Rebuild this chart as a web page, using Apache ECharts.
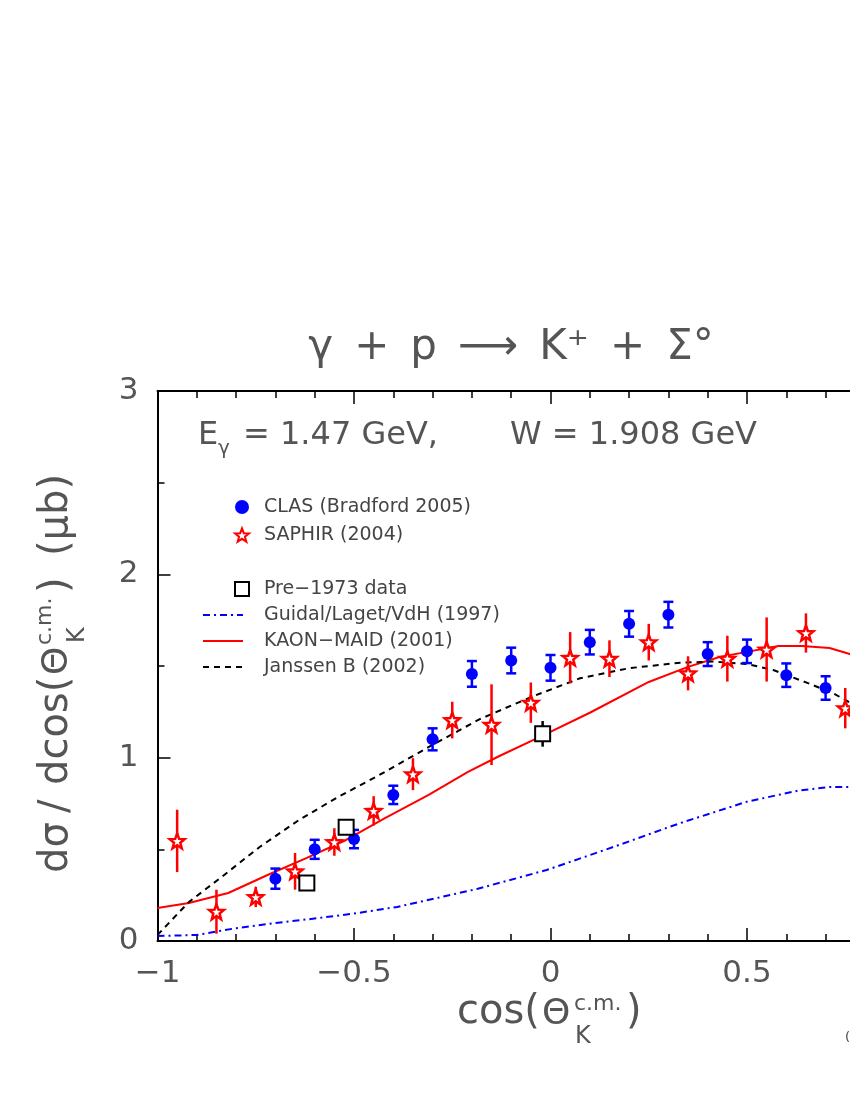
<!DOCTYPE html>
<html>
<head>
<meta charset="utf-8">
<script src="https://cdn.jsdelivr.net/npm/echarts@6/dist/echarts.min.js"></script>
<style>
html,body{margin:0;padding:0;background:#fff;overflow:hidden;}
#chart{width:1000px;height:1100px;}
</style>
</head>
<body>
<div id="chart"></div>
<script>
// ---- data ----
const clasX   = [-0.7,-0.6,-0.5,-0.4,-0.3,-0.2,-0.1,0.0,0.1,0.2,0.3,0.4,0.5,0.6,0.7];
const clasY   = [0.34,0.50,0.556,0.797,1.10,1.457,1.53,1.49,1.63,1.73,1.78,1.565,1.58,1.45,1.38];
const clasErr = [0.055,0.052,0.05,0.05,0.06,0.07,0.07,0.07,0.067,0.07,0.07,0.065,0.064,0.064,0.064];

const saphirX   = [-0.95,-0.85,-0.75,-0.65,-0.55,-0.45,-0.35,-0.25,-0.15,-0.05,0.05,0.15,0.25,0.35,0.45,0.55,0.65,0.75];
const saphirY   = [0.546,0.16,0.24,0.38,0.54,0.71,0.91,1.205,1.18,1.30,1.545,1.54,1.63,1.46,1.54,1.59,1.68,1.27];
const saphirErr = [0.17,0.12,0.055,0.10,0.075,0.08,0.087,0.10,0.22,0.11,0.14,0.10,0.10,0.093,0.125,0.175,0.107,0.11];

const preX   = [-0.62,-0.52,-0.02];
const preY   = [0.316,0.62,1.13];
const preErr = [0.03,0.03,0.07];

const guidalX = [-1,-0.9,-0.8,-0.7,-0.59,-0.49,-0.39,-0.29,-0.185,-0.01,0.16,0.33,0.5,0.63,0.71,0.77];
const guidalY = [0.027,0.033,0.07,0.098,0.125,0.153,0.186,0.234,0.285,0.387,0.513,0.643,0.76,0.82,0.84,0.84];

const kaonX = [-1,-0.92,-0.82,-0.72,-0.62,-0.52,-0.42,-0.31,-0.21,-0.13,-0.02,0.1,0.25,0.35,0.43,0.5,0.58,0.64,0.71,0.77];
const kaonY = [0.18,0.207,0.262,0.36,0.453,0.551,0.671,0.797,0.922,1.009,1.12,1.245,1.413,1.495,1.549,1.577,1.609,1.609,1.598,1.56];

const jansX = [-1,-0.92,-0.84,-0.74,-0.64,-0.54,-0.44,-0.3,-0.18,-0.05,0.075,0.2,0.33,0.415,0.5,0.567,0.652,0.72,0.77];
const jansY = [0.033,0.213,0.344,0.513,0.66,0.786,0.90,1.07,1.21,1.33,1.433,1.488,1.518,1.524,1.511,1.478,1.409,1.351,1.29];

const xTicks = {min:-1, max:1, interval:0.5};
const yTicks = {min:0, max:3, interval:1};

// ---- helpers ----
function starPath(){
  let d = '';
  for (let i = 0; i < 10; i++) {
    const r = (i % 2 === 0) ? 10 : 4.2;
    const a = -Math.PI/2 + i*Math.PI/5;
    d += (i === 0 ? 'M' : 'L') + (r*Math.cos(a)).toFixed(3) + ',' + (r*Math.sin(a)).toFixed(3);
  }
  return 'path://' + d + 'Z';
}
const STAR = starPath();
const pairs = (xs, ys) => xs.map((x,i)=>[x, ys[i]]);
const triples = (xs, ys, es) => xs.map((x,i)=>[x, ys[i], es[i]]);

function errSeries(data, color, cap){
  return {
    type:'custom', silent:true, z:3,
    data:data,
    renderItem:function(params, api){
      const x = api.value(0), y = api.value(1), e = api.value(2);
      const lo = api.coord([x, y-e]), hi = api.coord([x, y+e]);
      const st = {stroke:color, lineWidth:2.5};
      const ch = [{type:'line', shape:{x1:lo[0],y1:lo[1],x2:hi[0],y2:hi[1]}, style:st}];
      if (cap) {
        ch.push({type:'line', shape:{x1:lo[0]-cap,y1:lo[1],x2:lo[0]+cap,y2:lo[1]}, style:st});
        ch.push({type:'line', shape:{x1:hi[0]-cap,y1:hi[1],x2:hi[0]+cap,y2:hi[1]}, style:st});
      }
      return {type:'group', children:ch};
    }
  };
}

const FONT = 'DejaVu Sans';
const TXT = '#555';

function txt(text, x, y, size, extra){
  return {type:'text', style:Object.assign({text:text, x:x, y:y, fill:TXT,
    font: size + 'px "' + FONT + '"', verticalAlign:'middle', align:'left'}, extra||{})};
}

const chart = echarts.init(document.getElementById('chart'), null, {renderer:'canvas'});

const axisCommon = {
  type:'value',
  axisLine:{show:true, onZero:false, lineStyle:{color:'#000', width:2}},
  axisTick:{show:true, inside:true, length:13, lineStyle:{color:'#000', width:1.5}},
  minorTick:{show:true, length:7, lineStyle:{color:'#000', width:1.5}},
  splitLine:{show:false}, minorSplitLine:{show:false}
};

const option = {
  animation:false,
  backgroundColor:'#fff',
  grid:{left:157.5, top:391, right:56.5, bottom:159, containLabel:false},
  xAxis:[
    Object.assign({}, axisCommon, {position:'bottom', min:xTicks.min, max:xTicks.max, interval:xTicks.interval,
      minorTick:Object.assign({}, axisCommon.minorTick, {splitNumber:5}),
      axisLabel:{color:TXT, fontSize:31, fontFamily:FONT, margin:17,
        formatter:v => v < 0 ? '\u2212' + Math.abs(v) : String(v)}}),
    Object.assign({}, axisCommon, {position:'top', min:xTicks.min, max:xTicks.max, interval:xTicks.interval,
      minorTick:Object.assign({}, axisCommon.minorTick, {splitNumber:5}),
      axisLabel:{show:false}})
  ],
  yAxis:[
    Object.assign({}, axisCommon, {position:'left', min:yTicks.min, max:yTicks.max, interval:yTicks.interval,
      minorTick:Object.assign({}, axisCommon.minorTick, {splitNumber:2}),
      axisLabel:{color:TXT, fontSize:31, fontFamily:FONT, margin:19}}),
    Object.assign({}, axisCommon, {position:'right', min:yTicks.min, max:yTicks.max, interval:yTicks.interval,
      minorTick:Object.assign({}, axisCommon.minorTick, {splitNumber:2}),
      axisLabel:{show:false}})
  ],
  legend:[
    {orient:'vertical', left:229, top:492, itemWidth:14, itemHeight:14, itemGap:8,
      data:['CLAS (Bradford 2005)','SAPHIR (2004)'],
      textStyle:{color:'#444', fontSize:19, fontFamily:FONT, lineHeight:20, padding:[0,0,0,10]}},
    {orient:'vertical', left:229, top:574, itemWidth:14, itemHeight:14, itemGap:6,
      data:['Pre\u22121973 data'],
      textStyle:{color:'#444', fontSize:19, fontFamily:FONT, lineHeight:20, padding:[0,0,0,10]}},
    {orient:'vertical', left:197, top:600, itemWidth:40, itemHeight:14, itemGap:6,
      itemStyle:{opacity:0},
      data:['Guidal/Laget/VdH (1997)','KAON\u2212MAID (2001)','Janssen B (2002)'],
      textStyle:{color:'#444', fontSize:19, fontFamily:FONT, lineHeight:20, padding:[0,0,0,16]}}
  ],
  series:[
    {name:'Guidal/Laget/VdH (1997)', type:'line', data:pairs(guidalX, guidalY), symbol:'none', showSymbol:false, z:2,
      smooth:false, lineStyle:{color:'#0000ff', width:2, type:[7,4,2,4]}, itemStyle:{color:'#0000ff'}},
    {name:'KAON\u2212MAID (2001)', type:'line', data:pairs(kaonX, kaonY), symbol:'none', showSymbol:false, z:2,
      smooth:false, lineStyle:{color:'#ff0000', width:2}, itemStyle:{color:'#ff0000'}},
    {name:'Janssen B (2002)', type:'line', data:pairs(jansX, jansY), symbol:'none', showSymbol:false, z:2,
      smooth:false, lineStyle:{color:'#000', width:2, type:[6,5]}, itemStyle:{color:'#000'}},
    errSeries(triples(clasX, clasY, clasErr), '#0000ff', 5),
    errSeries(triples(saphirX, saphirY, saphirErr), '#ff0000', 0),
    errSeries(triples(preX, preY, preErr), '#000', 0),
    {name:'CLAS (Bradford 2005)', type:'scatter', data:pairs(clasX, clasY), symbol:'circle', symbolSize:12, z:5,
      itemStyle:{color:'#0000ff', opacity:1}},
    {name:'SAPHIR (2004)', type:'scatter', data:pairs(saphirX, saphirY), symbol:STAR, symbolSize:15, z:5,
      itemStyle:{color:'#fff', borderColor:'#ff0000', borderWidth:2.5, opacity:1}},
    {name:'Pre\u22121973 data', type:'scatter', data:pairs(preX, preY), symbol:'rect', symbolSize:15, z:5,
      itemStyle:{color:'#fff', borderColor:'#000', borderWidth:2, opacity:1}}
  ],
  graphic:[
    // title
    txt('\u03b3\u2002+\u2002p\u2002\u27f6\u2002K\u207a\u2002+\u2002\u03a3\u00b0', 511, 348, 42, {align:'center'}),
    // energy line
    txt('E', 198, 436, 32),
    txt('\u03b3', 218, 449, 20),
    txt('= 1.47 GeV,', 243, 436, 32),
    txt('W = 1.908 GeV', 510, 436, 32),
    // x axis name
    txt('cos(', 457, 1013, 40),
    txt('\u0398', 542, 1015, 36),
    txt('c.m.', 574, 1004, 22),
    txt('K', 575, 1037, 24),
    txt(')', 626, 1013, 40),
    // y axis name (rotated)
    {type:'group', x:70, y:668, rotation:Math.PI/2, children:[
      txt('d\u03c3', -205, -13, 40),
      txt('/', -145, -13, 40),
      txt('dcos(', -117, -13, 40),
      txt('\u0398', -7, -12, 36),
      txt('c.m.', 23, -25, 22),
      txt('K', 25, 8, 24),
      txt(')', 75, -13, 40),
      txt('(\u03bcb)', 112, -13, 40)
    ]},
    // stray mark at the right edge of the reference
    txt('(', 845, 1038, 13, {fill:'#444'})
  ]
};
chart.setOption(option);
</script>
</body>
</html>
